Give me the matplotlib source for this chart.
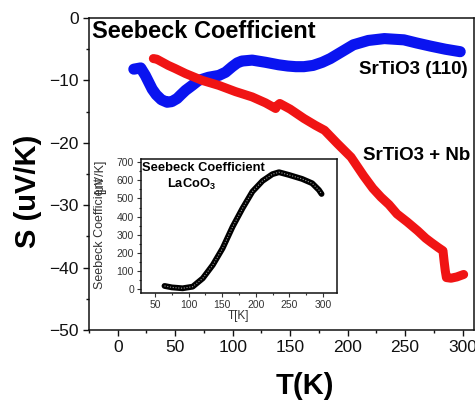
import matplotlib
matplotlib.use("Agg")
import matplotlib.pyplot as plt
from matplotlib.ticker import MultipleLocator

plt.rcParams['font.family'] = ['Liberation Sans', 'DejaVu Sans']
plt.rcParams['mathtext.fontset'] = 'custom'
plt.rcParams['mathtext.rm'] = 'Liberation Sans'
plt.rcParams['mathtext.bf'] = 'Liberation Sans:bold'

# SrTiO3 (110)
blue_T = [14, 20, 24, 27, 30, 33.5, 38, 43, 47, 51.7, 55, 59, 64.8, 70.3, 79, 88, 93.8, 99.6,
          104, 108, 117, 128.6, 140, 148, 155, 162, 170, 178, 185, 195, 205, 218, 232, 249,
          260, 272, 285, 298]
blue_S = [-8.2, -8.0, -9.2, -10.3, -11.4, -12.3, -13.1, -13.5, -13.4, -12.9, -12.3, -11.6,
          -10.8, -10.0, -9.5, -9.2, -8.7, -7.8, -7.2, -6.9, -6.75, -7.1, -7.5, -7.7, -7.8,
          -7.8, -7.6, -7.1, -6.5, -5.4, -4.3, -3.6, -3.3, -3.5, -4.0, -4.5, -5.0, -5.4]

# SrTiO3 + Nb
red_T = [31, 34, 38, 44, 50, 59, 73.5, 88, 102.5, 117, 128.6, 137.4, 139, 141, 150,
         162, 172, 180, 191, 203, 214, 222, 229, 236, 243, 252, 261, 268, 273, 279, 283,
         284, 285, 286, 290, 295, 301]
red_S = [-6.5, -6.6, -7.0, -7.6, -8.1, -8.9, -10.0, -10.8, -11.8, -12.65, -13.6, -14.5,
         -14.0, -13.7, -14.6, -16.1, -17.2, -18.0, -20.1, -22.3, -25.3, -27.3, -28.7, -29.9,
         -31.4, -32.7, -34.1, -35.3, -36.0, -36.8, -37.3, -39.0, -40.5, -41.6, -41.7, -41.5,
         -41.1]

# LaCoO3 inset
la_T = [64, 75, 91, 106, 121, 136, 150.6, 165.5, 180.3, 195, 210, 224.7, 234.6, 249.5, 269,
        284, 294, 298]
la_S = [17, 9, 4, 13, 59, 133, 225, 344, 446, 538, 597, 634, 645, 630, 608, 584, 547, 525]

W, H = 475, 401
fig = plt.figure(figsize=(W / 100, H / 100), dpi=100)

ax = fig.add_axes([89 / W, (H - 330) / H, 385 / W, 312 / H])
ax.plot(blue_T, blue_S, color='#0a14f0', lw=8, solid_capstyle='round', solid_joinstyle='round')
ax.plot(red_T, red_S, color='#f01414', lw=6.5, solid_capstyle='round', solid_joinstyle='round')
ax.set_xlim(-25, 310)
ax.set_ylim(-50, 0)
ax.xaxis.set_major_locator(MultipleLocator(50))
ax.xaxis.set_minor_locator(MultipleLocator(25))
ax.yaxis.set_major_locator(MultipleLocator(10))
ax.yaxis.set_minor_locator(MultipleLocator(5))
ax.tick_params(which='both', direction='out', top=False, right=False, labelsize=12.5,
               colors='#111111', width=1)
ax.tick_params(which='major', length=4.5, pad=3)
ax.tick_params(which='minor', length=2.5)
for s in ax.spines.values():
    s.set_linewidth(1.1)
    s.set_color('#111111')

fig.text(92 / W, (H - 38) / H, 'Seebeck Coefficient', fontsize=17, fontweight='bold',
         ha='left', va='baseline')
fig.text(468 / W, (H - 70) / H, 'SrTiO3 (110)', fontsize=13.5, fontweight='bold',
         ha='right', va='center')
fig.text(470 / W, (H - 155) / H, 'SrTiO3 + Nb', fontsize=13.5, fontweight='bold',
         ha='right', va='center')
fig.text(28 / W, (H - 191) / H, 'S (uV/K)', fontsize=21, fontweight='bold', rotation=90,
         ha='center', va='center')
fig.text(305 / W, (H - 386) / H, 'T(K)', fontsize=21, fontweight='bold',
         ha='center', va='center')

# inset
ia = fig.add_axes([141 / W, (H - 293) / H, 196 / W, 134 / H])
ia.plot(la_T, la_S, color='black', lw=4.2, solid_capstyle='round', solid_joinstyle='round')
ia.plot(la_T, la_S, color='#9a9a9a', lw=0.8, ls=(0, (1, 1.5)))
ia.set_xlim(29, 321)
ia.set_ylim(-22, 718)
ia.xaxis.set_major_locator(MultipleLocator(50))
ia.xaxis.set_minor_locator(MultipleLocator(25))
ia.yaxis.set_major_locator(MultipleLocator(100))
ia.yaxis.set_minor_locator(MultipleLocator(50))
ia.tick_params(which='both', direction='out', top=False, right=False, labelsize=7.5,
               colors='#333333', width=0.8)
ia.tick_params(which='major', length=3, pad=2)
ia.tick_params(which='minor', length=1.5)
for s in ia.spines.values():
    s.set_linewidth(1.1)
    s.set_color('#111111')
ia.set_xlabel('T[K]', fontsize=8.5, color='#333333', labelpad=0)
ia.text(0.005, 0.93, 'Seebeck Coefficient', transform=ia.transAxes, fontsize=9.3,
        fontweight='bold', ha='left', va='center')
ia.text(0.135, 0.81, r'LaCoO$_\mathbf{3}$', transform=ia.transAxes, fontsize=9.3,
        fontweight='bold', ha='left', va='center')
fig.text(100 / W, (H - 289) / H, 'Seebeck Coefficient', fontsize=9, color='#333333',
         rotation=90, ha='center', va='bottom')
fig.text(100 / W, (H - 160) / H, '[\u03bcV/K]', fontsize=9, color='#333333',
         rotation=90, ha='center', va='top')

fig.savefig('out.png', dpi=100)
